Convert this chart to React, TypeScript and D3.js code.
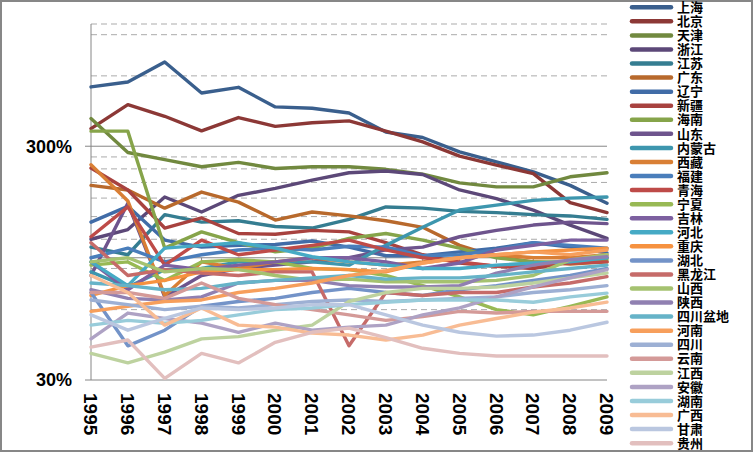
import * as d3 from 'd3';

const years = ['1995', '1996', '1997', '1998', '1999', '2000', '2001', '2002', '2003', '2004', '2005', '2006', '2007', '2008', '2009'];

// values in %
const shanghai = [538, 565, 688, 507, 536, 442, 436, 416, 345, 327, 284, 257, 233, 204, 171];
const beijing = [357, 452, 403, 349, 398, 365, 378, 385, 348, 313, 272, 249, 229, 172, 156];
const tianjin = [394, 282, 263, 245, 256, 241, 245, 245, 239, 228, 209, 201, 201, 222, 231];
const zhejiang = [120, 132, 182, 157, 185, 198, 215, 231, 235, 227, 195, 179, 160, 138, 121];
const jiangsu = [111, 103, 153, 142, 144, 136, 134, 146, 165, 163, 158, 156, 153, 151, 146];
const guangdong = [204, 195, 163, 191, 173, 145, 157, 151, 144, 135, 113, 101, 96, 94, 96];
const liaoning = [142, 166, 119, 111, 113, 114, 118, 111, 102, 102, 106, 110, 116, 111, 105];
const xinjiang = [242, 195, 134, 148, 127, 126, 131, 129, 116, 103, 95, 92, 90, 96, 100];
const hainan = [348, 348, 110, 129, 116, 106, 110, 121, 127, 119, 110, 100, 96, 96, 98];
const shandong = [84, 171, 68, 84, 90, 93, 96, 100, 108, 111, 123, 131, 138, 142, 140];
const neimenggu = [87, 75, 89, 90, 96, 96, 96, 93, 113, 135, 160, 168, 176, 180, 182];
const xizang = [250, 175, 69, 96, 90, 96, 100, 96, 93, 96, 100, 103, 100, 100, 103];
const fujian = [100, 110, 96, 103, 108, 110, 108, 112, 111, 102, 103, 108, 116, 113, 110];
const qinghai = [123, 165, 93, 119, 103, 108, 113, 119, 108, 100, 96, 92, 93, 95, 96];
const ningxia = [93, 96, 80, 96, 98, 96, 90, 89, 84, 76, 68, 60, 57, 62, 68];
const jilin = [96, 73, 93, 89, 93, 96, 100, 100, 96, 90, 95, 108, 113, 119, 119];
const hebei = [96, 76, 110, 113, 116, 110, 101, 96, 93, 90, 90, 93, 95, 96, 100];
const chongqing = [69, 76, 80, 87, 89, 89, 90, 89, 87, 95, 100, 103, 106, 108, 110];
const hubei = [71, 42, 49, 62, 65, 67, 71, 74, 71, 69, 73, 76, 80, 84, 90];
const heilongjiang = [116, 84, 89, 86, 84, 87, 87, 42, 71, 69, 71, 71, 75, 78, 83];
const shanxi = [96, 100, 87, 90, 89, 84, 80, 81, 79, 79, 79, 80, 84, 98, 103];
const shaanxi = [73, 67, 66, 68, 78, 80, 80, 76, 75, 75, 76, 86, 93, 98, 101];
const sichuanBasin = [78, 76, 73, 74, 78, 80, 82, 84, 81, 82, 82, 84, 87, 90, 93];
const henan = [59, 62, 65, 66, 71, 74, 78, 84, 88, 95, 100, 103, 106, 103, 108];
const sichuan = [66, 63, 60, 62, 61, 63, 65, 66, 65, 66, 67, 68, 71, 73, 76];
const yunnan = [71, 71, 67, 78, 67, 63, 60, 57, 54, 56, 59, 58, 59, 59, 59];
const jiangxi = [39, 35.5, 39.5, 45, 46, 49, 51.5, 65, 71, 74, 74, 75, 78, 82, 86];
const anhui = [45, 58, 55, 52.5, 48, 52.5, 49, 50.5, 51.5, 57, 61, 68, 75, 82, 89];
const hunan = [51.5, 54, 52.5, 54, 57, 60, 61, 63, 64.5, 66, 66, 66, 64.5, 68, 70.6];
const guangxi = [84, 71, 51.5, 61, 51.5, 50.5, 47.6, 46.7, 44.5, 46.7, 51.5, 55, 58.5, 61, 64.6];
const gansu = [57, 49, 55, 61, 60, 61, 63, 63, 57, 51.5, 48, 46.2, 46.7, 49, 53];
const guizhou = [41.5, 44.5, 30.5, 39, 35.5, 43.5, 48, 50, 45.5, 41, 39, 38, 38, 38, 38];

const names = ['上海', '北京', '天津', '浙江', '江苏', '广东', '辽宁', '新疆', '海南', '山东', '内蒙古', '西藏',
  '福建', '青海', '宁夏', '吉林', '河北', '重庆', '湖北', '黑龙江', '山西', '陕西', '四川盆地', '河南',
  '四川', '云南', '江西', '安徽', '湖南', '广西', '甘肃', '贵州'];

const values = [shanghai, beijing, tianjin, zhejiang, jiangsu, guangdong, liaoning, xinjiang, hainan, shandong,
  neimenggu, xizang, fujian, qinghai, ningxia, jilin, hebei, chongqing, hubei, heilongjiang, shanxi, shaanxi,
  sichuanBasin, henan, sichuan, yunnan, jiangxi, anhui, hunan, guangxi, gansu, guizhou];

const colors = [
  '#3A5F8D', '#8C3836', '#71893F', '#5C4878', '#357D91', '#B8692C',
  '#416CA7', '#A8423F', '#86A44A', '#6E548D', '#3D96AE', '#D97F35',
  '#4A7EBB', '#BE4B48', '#98B954', '#7D60A0', '#46AAC5', '#F69240',
  '#7393C8', '#C66B69', '#A5C270', '#9080B1', '#66B3C8', '#F79F5C',
  '#9DB0D4', '#D49A98', '#BDD29F', '#AEA2C4', '#98CCDA', '#F8BC94',
  '#BAC7E0', '#E2BFBE',
];

const majorTicks = [30, 300];
const minorTicks = [60, 90, 120, 150, 180, 210, 240, 270, 600, 900, 1000];

const W = 753, H = 452;
const left = 91, right = 607, top = 24, bottom = 380;

export default function App() {
  const x = d3.scalePoint<string>().domain(years).range([left, right]);
  const y = d3.scaleLog().domain([30, 1000]).range([bottom, top]);
  const line = d3.line<number>().x((_, i) => x(years[i]) as number).y(d => y(d));
  const axisY = y(100);
  const gray = '#868686';
  const numFont = '"Liberation Sans", Arial, sans-serif';

  return (
    <svg width={W} height={H} style={{ position: 'absolute', left: 0, top: 0, background: '#fff' }}>
      <rect x={1} y={1} width={W - 2} height={H - 2} fill="#fff" stroke="#878787" strokeWidth={2} />
      {minorTicks.map(t => (
        <line key={'m' + t} x1={left} x2={right} y1={y(t)} y2={y(t)} stroke="#ABABAB" strokeDasharray="6,4" strokeWidth={1} />
      ))}
      {majorTicks.map(t => (
        <g key={'M' + t}>
          <line x1={left - 6} x2={right} y1={y(t)} y2={y(t)} stroke={gray} strokeWidth={1} />
          <text x={72} y={y(t)} dy="0.36em" textAnchor="end" fontFamily={numFont} fontWeight="bold" fontSize={18}>{t}%</text>
        </g>
      ))}
      <line x1={left} x2={left} y1={top} y2={bottom} stroke={gray} strokeWidth={1} />
      <line x1={left} x2={right} y1={axisY} y2={axisY} stroke={gray} strokeWidth={1} />
      {years.map(yr => (
        <line key={'t' + yr} x1={x(yr)} x2={x(yr)} y1={axisY} y2={axisY + 5} stroke={gray} strokeWidth={1} />
      ))}
      {years.map(yr => (
        <text key={yr} transform={`translate(${x(yr)},393) rotate(90)`} dy="0.36em" fontFamily={numFont}
          fontWeight="bold" fontSize={19}>{yr}</text>
      ))}
      {values.map((v, i) => (
        <path key={names[i]} d={line(v) || undefined} fill="none" stroke={colors[i]} strokeWidth={3.4}
          strokeLinejoin="round" strokeLinecap="round" />
      ))}
      {names.map((n, i) => {
        const ly = 7.3 + i * 14.06;
        return (
          <g key={'lg' + n}>
            <line x1={632} x2={671} y1={ly} y2={ly} stroke={colors[i]} strokeWidth={4.5} strokeLinecap="round" />
            <text x={677} y={ly} dy="0.36em" fontFamily='"Noto Sans CJK SC", sans-serif' fontWeight="bold" fontSize={13}>{n}</text>
          </g>
        );
      })}
    </svg>
  );
}
